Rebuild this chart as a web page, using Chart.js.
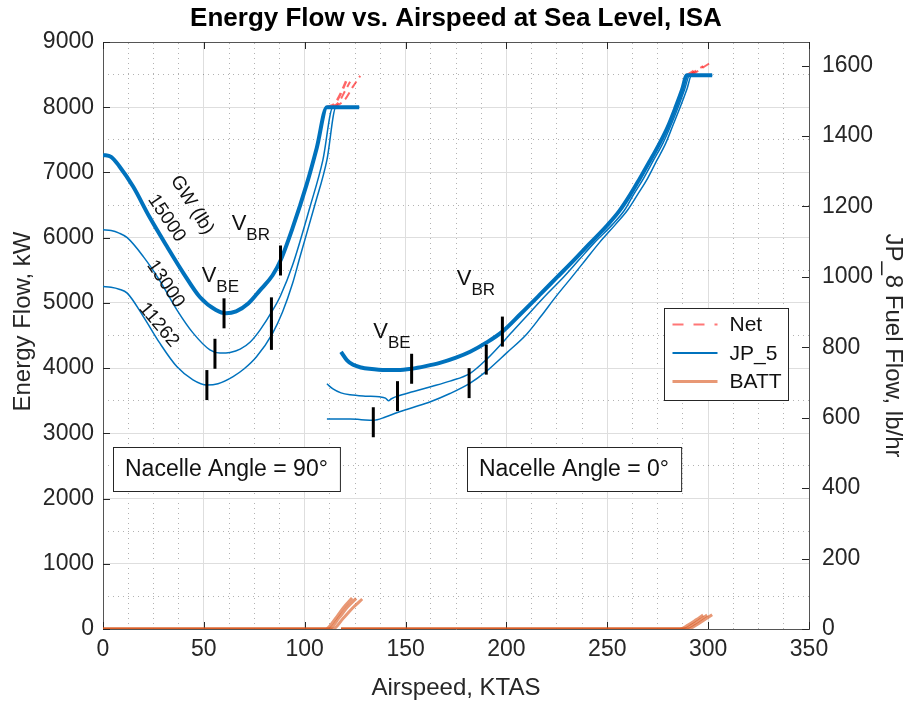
<!DOCTYPE html>
<html><head><meta charset="utf-8">
<script src="https://cdn.jsdelivr.net/npm/chart.js@4.4.1/dist/chart.umd.min.js"></script>
<style>html,body{margin:0;padding:0;background:#fff;}#wrap{width:907px;height:704px;}</style>
</head><body><div id="wrap"><canvas id="c" width="907" height="704"></canvas></div>
<script>
// ================= DATA =================
// Nacelle angle 90 deg: JP_5 energy flow (kW) vs airspeed (KTAS), one curve per gross weight
const n90_15000_kt = [0, 4, 8, 15, 23, 32, 40, 48, 56, 61, 66, 72, 78, 84, 88, 94, 101, 106, 111, 127];
const n90_15000_kw = [7270, 7240, 7100, 6780, 6320, 5850, 5450, 5090, 4890, 4840, 4870, 4990, 5200, 5420, 5650, 6150, 6820, 7380, 8000, 8000];
const n90_13000_kt = [0, 4, 8, 12, 20, 28, 36.7, 44.6, 53, 58, 63, 68, 73, 78, 84, 88, 94, 102.6, 109, 114, 127];
const n90_13000_kw = [6120, 6110, 6070, 6000, 5710, 5350, 4890, 4540, 4280, 4230, 4240, 4290, 4400, 4590, 4880, 5110, 5580, 6470, 7190, 8000, 8000];
const n90_11262_kt = [0, 4, 8, 12, 20, 28, 36.7, 44.6, 51.5, 57, 64.5, 70, 76, 84, 89, 94, 97.6, 105, 111, 115.5, 127];
const n90_11262_kw = [5250, 5240, 5210, 5150, 4790, 4390, 4020, 3820, 3740, 3760, 3870, 3990, 4170, 4530, 4860, 5300, 5700, 6500, 7190, 8000, 8000];

// Nacelle angle 0 deg
const n0_15000_kt = [118, 121, 124, 128, 132, 140, 146, 153, 160, 167, 175, 182, 190, 198, 207, 216.7, 225, 233, 241, 250, 256, 261, 266, 271, 276, 280, 284, 287, 289.5, 302];
const n0_15000_kw = [4250, 4120, 4050, 4010, 3990, 3970, 3970, 3990, 4030, 4080, 4160, 4250, 4390, 4560, 4830, 5130, 5390, 5640, 5900, 6190, 6410, 6640, 6900, 7170, 7450, 7700, 8010, 8260, 8490, 8490];
const n0_13000_kt = [111, 114, 118, 122.5, 130, 137, 140, 141.5, 143, 146, 154, 162, 172, 182, 190, 203, 211, 220.6, 228.5, 236, 243.5, 252.5, 258.5, 263, 268, 272.8, 277.6, 281.5, 285.5, 288.4, 290.8, 302];
const n0_13000_kw = [3760, 3680, 3620, 3590, 3570, 3560, 3540, 3500, 3530, 3570, 3640, 3710, 3800, 3920, 4130, 4560, 4830, 5150, 5400, 5660, 5920, 6200, 6420, 6660, 6910, 7180, 7450, 7720, 8030, 8280, 8490, 8490];
const n0_11262_kt = [111, 116, 122.5, 128, 134, 140, 146, 154, 162, 172, 182, 190, 200, 210, 217, 224.6, 232, 239, 246, 254, 260, 265, 270, 274.5, 279, 282.5, 286.5, 289.5, 291.8, 302];
const n0_11262_kw = [3220, 3220, 3220, 3210, 3200, 3250, 3320, 3400, 3480, 3610, 3770, 3950, 4230, 4520, 4790, 5100, 5380, 5650, 5920, 6200, 6420, 6660, 6910, 7180, 7450, 7720, 8030, 8280, 8490, 8490];

// Net energy flow where it exceeds the JP_5 limit
const net90_15000_kt = [111, 115, 118, 120.5];
const net90_15000_kw = [8000, 8060, 8220, 8400];
const net90_13000_kt = [113.5, 117, 120, 122.5];
const net90_13000_kw = [8000, 8080, 8250, 8390];
const net90_11262_kt = [115, 120, 124, 127.5];
const net90_11262_kw = [8000, 8120, 8320, 8480];
const net0_15000_kt = [289.5, 292, 294.5];
const net0_15000_kw = [8490, 8540, 8590];
const net0_13000_kt = [290.8, 294, 297.5];
const net0_13000_kw = [8490, 8560, 8630];
const net0_11262_kt = [291.8, 297, 302];
const net0_11262_kw = [8490, 8600, 8700];

// Battery energy flow
const batt90_15000_kt = [0, 110.5, 115, 119, 123.5];
const batt90_15000_kw = [0, 0, 150, 320, 475];
const batt90_13000_kt = [0, 112, 117, 121, 125.5];
const batt90_13000_kw = [0, 0, 170, 330, 470];
const batt90_11262_kt = [0, 114, 119, 124, 128.5];
const batt90_11262_kw = [0, 0, 160, 330, 460];
const batt0_15000_kt = [118, 286, 290, 294, 297.5];
const batt0_15000_kw = [0, 0, 60, 140, 215];
const batt0_13000_kt = [118, 288, 292, 296, 299.5];
const batt0_13000_kw = [0, 0, 60, 140, 215];
const batt0_11262_kt = [118, 290, 294, 298, 302];
const batt0_11262_kw = [0, 0, 60, 140, 220];

// Best-endurance / best-range speeds (KTAS) and energy flow there (kW)
const vbe90_kt = [60, 55.5, 51.5];
const vbe90_kw = [4840, 4220, 3740];
const vbr90_kt = [88, 83.5, 83.5];
const vbr90_kw = [5650, 4855, 4510];
const vbe0_kt = [153, 146, 134];
const vbe0_kw = [3990, 3570, 3170];
const vbr0_kt = [198, 190, 181.5];
const vbr0_kw = [4560, 4130, 3770];

// Axis ranges / tick steps
const xRange = [0, 350], xStep = 50, xMinorStep = 12.5;
const yRange = [0, 9000], yStep = 1000, yMinorStep = 500;
const y2Range = [0, 1667], y2Step = 200;

// ================= STYLE / BUILD =================
const FONT = "'Liberation Sans', Arial, Helvetica, sans-serif";
Chart.defaults.font.family = FONT;
const BLUE = '#0072BD', ORANGE = 'rgba(217,83,25,0.6)', RED = 'rgba(255,0,0,0.6)';
const MARK_HALF = 230; // half-length of V marks in kW

const xy = (xs, ys) => xs.map((x, i) => ({x, y: ys[i]}));
const datasets = [];
function addLine(xs, ys, color, width, order, dash) {
  datasets.push({data: xy(xs, ys), borderColor: color, borderWidth: width, pointRadius: 0,
    fill: false, order, borderDash: dash || [], cubicInterpolationMode: 'monotone', borderCapStyle: 'butt'});
}
[[vbe90_kt, vbe90_kw], [vbr90_kt, vbr90_kw], [vbe0_kt, vbe0_kw], [vbr0_kt, vbr0_kw]].forEach(([xs, ys]) => {
  xs.forEach((x, i) => {
    datasets.push({data: [{x, y: ys[i] - MARK_HALF}, {x, y: ys[i] + MARK_HALF}], borderColor: '#000',
      borderWidth: 3, pointRadius: 0, order: 0, borderCapStyle: 'butt'});
  });
});
addLine(n90_15000_kt, n90_15000_kw, BLUE, 4, 1);
addLine(n90_13000_kt, n90_13000_kw, BLUE, 1.5, 1);
addLine(n90_11262_kt, n90_11262_kw, BLUE, 1.5, 1);
addLine(n0_15000_kt, n0_15000_kw, BLUE, 4, 1);
addLine(n0_13000_kt, n0_13000_kw, BLUE, 1.5, 1);
addLine(n0_11262_kt, n0_11262_kw, BLUE, 1.5, 1);
addLine(net90_15000_kt, net90_15000_kw, RED, 2.5, 2, [8, 5]);
addLine(net90_13000_kt, net90_13000_kw, RED, 2, 2, [8, 5]);
addLine(net90_11262_kt, net90_11262_kw, RED, 2, 2, [8, 5]);
addLine(net0_15000_kt, net0_15000_kw, RED, 2.5, 2, [8, 5]);
addLine(net0_13000_kt, net0_13000_kw, RED, 2, 2, [8, 5]);
addLine(net0_11262_kt, net0_11262_kw, RED, 2, 2, [8, 5]);
addLine(batt90_15000_kt, batt90_15000_kw, ORANGE, 3, 3);
addLine(batt90_13000_kt, batt90_13000_kw, ORANGE, 3, 3);
addLine(batt90_11262_kt, batt90_11262_kw, ORANGE, 3, 3);
addLine(batt0_15000_kt, batt0_15000_kw, ORANGE, 3, 3);
addLine(batt0_13000_kt, batt0_13000_kw, ORANGE, 3, 3);
addLine(batt0_11262_kt, batt0_11262_kw, ORANGE, 3, 3);

// annotation config (data coordinates)
const curveLabels = [
  {text: 'GW (lb)', kt: 44.1, kw: 6500, deg: 58},
  {text: '15000', kt: 31.5, kw: 6300, deg: 56},
  {text: '13000', kt: 31.0, kw: 5290, deg: 56},
  {text: '11262', kt: 27.7, kw: 4660, deg: 50}
];
const vLabels = [
  {sub: 'BR', kt: 63.8, kw: 6118},
  {sub: 'BE', kt: 48.9, kw: 5327},
  {sub: 'BE', kt: 134.0, kw: 4457},
  {sub: 'BR', kt: 175.4, kw: 5274}
];
const boxLabels = [
  {text: 'Nacelle Angle = 90\u00B0', kt: 61.2, kw: 2453},
  {text: 'Nacelle Angle = 0\u00B0', kt: 233.5, kw: 2453}
];
const legendItems = [
  {label: 'Net', color: 'rgba(255,60,60,0.7)', dash: [11, 10], width: 2},
  {label: 'JP_5', color: BLUE, dash: [], width: 2},
  {label: 'BATT', color: 'rgba(217,83,25,0.6)', dash: [], width: 3}
];
const yTitle = 'Energy Flow, kW', y2Title = 'JP_8 Fuel Flow, lb/hr';

const overlay = {
  id: 'overlay',
  beforeDatasetsDraw(chart) {
    const {ctx, chartArea: a, scales} = chart;
    ctx.save();
    ctx.strokeStyle = '#262626'; ctx.lineWidth = 1;
    const L = 7;
    ctx.beginPath();
    for (let v = yRange[0]; v <= yRange[1]; v += yStep) {
      const p = Math.round(scales.y.getPixelForValue(v)) + 0.5;
      ctx.moveTo(a.left, p); ctx.lineTo(a.left + L, p);
    }
    for (let v = y2Range[0]; v <= 1600; v += y2Step) {
      const p = Math.round(scales.y2.getPixelForValue(v)) + 0.5;
      ctx.moveTo(a.right, p); ctx.lineTo(a.right - L, p);
    }
    for (let v = xRange[0]; v <= xRange[1]; v += xStep) {
      const p = Math.round(scales.x.getPixelForValue(v)) + 0.5;
      ctx.moveTo(p, a.bottom); ctx.lineTo(p, a.bottom - L);
      ctx.moveTo(p, a.top); ctx.lineTo(p, a.top + L);
    }
    ctx.stroke();
    ctx.restore();
  },
  afterDraw(chart) {
    const {ctx, chartArea: a, scales} = chart;
    const px = v => scales.x.getPixelForValue(v), py = v => scales.y.getPixelForValue(v);
    ctx.save();
    // axis titles
    ctx.fillStyle = '#262626'; ctx.font = '24px ' + FONT; ctx.textAlign = 'center'; ctx.textBaseline = 'middle';
    ctx.save(); ctx.translate(23, (a.top + a.bottom) / 2 - 14); ctx.rotate(-Math.PI / 2); ctx.fillText(yTitle, 0, 0); ctx.restore();
    ctx.save(); ctx.translate(893, (a.top + a.bottom) / 2 + 10); ctx.rotate(Math.PI / 2); ctx.fillText(y2Title, 0, 0); ctx.restore();

    ctx.fillStyle = '#111';
    curveLabels.forEach(l => {
      ctx.save();
      ctx.translate(px(l.kt), py(l.kw));
      ctx.rotate(l.deg * Math.PI / 180);
      ctx.font = '19px ' + FONT; ctx.textAlign = 'center'; ctx.textBaseline = 'middle';
      ctx.fillText(l.text, 0, 0);
      ctx.restore();
    });
    vLabels.forEach(l => {
      const x = px(l.kt), y = py(l.kw);
      ctx.font = '22px ' + FONT; ctx.textAlign = 'left'; ctx.textBaseline = 'alphabetic';
      ctx.fillText('V', x, y);
      const w = ctx.measureText('V').width;
      ctx.font = '17px ' + FONT;
      ctx.fillText(l.sub, x + w, y + 10);
    });
    boxLabels.forEach(l => {
      const x = px(l.kt), y = py(l.kw);
      ctx.font = '23px ' + FONT;
      const w = ctx.measureText(l.text).width + 24, h = 44;
      const bx = Math.round(x - w / 2) + 0.5, by = Math.round(y - h / 2) + 0.5;
      ctx.fillStyle = '#fff'; ctx.fillRect(bx, by, w, h);
      ctx.strokeStyle = '#262626'; ctx.lineWidth = 1; ctx.strokeRect(bx, by, w, h);
      ctx.fillStyle = '#111'; ctx.textAlign = 'center'; ctx.textBaseline = 'middle';
      ctx.fillText(l.text, x, y + 1);
    });
    // legend
    const lw = 124, lh = 92;
    const lx = Math.round(a.right - 21 - lw) + 0.5, ly = 308.5;
    ctx.fillStyle = '#fff'; ctx.fillRect(lx, ly, lw, lh);
    ctx.strokeStyle = '#262626'; ctx.lineWidth = 1; ctx.strokeRect(lx, ly, lw, lh);
    legendItems.forEach((it, i) => {
      const yy = ly + 16 + i * 28.5;
      ctx.save();
      ctx.strokeStyle = it.color; ctx.lineWidth = it.width; ctx.setLineDash(it.dash);
      ctx.beginPath(); ctx.moveTo(lx + 8, yy); ctx.lineTo(lx + 53, yy); ctx.stroke();
      ctx.restore();
      ctx.fillStyle = '#111'; ctx.font = '21px ' + FONT; ctx.textAlign = 'left'; ctx.textBaseline = 'middle';
      ctx.fillText(it.label, lx + 65, yy + 1);
    });
    ctx.restore();
  }
};

const tickFont = {size: 23, family: FONT};
const titleFont = {size: 24, family: FONT};
const GRID = '#dedede', MINOR = 'rgba(0,0,0,0.3)', AXIS = '#555';
const plain = v => String(v);

new Chart(document.getElementById('c'), {
  type: 'line',
  data: {datasets},
  options: {
    responsive: false, animation: false, devicePixelRatio: 1,
    layout: {padding: 0},
    plugins: {legend: {display: false}, tooltip: {enabled: false}, title: {display: false}},
    scales: {
      x: {type: 'linear', position: 'bottom', min: xRange[0], max: xRange[1],
        ticks: {stepSize: xStep, font: tickFont, color: '#262626', padding: 7, maxRotation: 0, callback: plain},
        grid: {color: GRID, drawTicks: false},
        border: {color: AXIS},
        title: {display: true, text: 'Airspeed, KTAS', font: titleFont, color: '#262626', padding: {top: 0, bottom: 1}},
        afterFit: s => { s.height = 75; }},
      xTop: {type: 'linear', position: 'top', min: xRange[0], max: xRange[1],
        ticks: {display: false, stepSize: xMinorStep},
        grid: {drawTicks: false, color: c => (c.tick && c.tick.value % xStep === 0) ? 'rgba(0,0,0,0)' : MINOR},
        border: {display: true, color: AXIS, dash: [1, 4]},
        title: {display: true, text: 'Energy Flow vs. Airspeed at Sea Level, ISA', color: '#000',
          font: {size: 26, weight: 'bold', family: FONT}, padding: {top: 3, bottom: 0}},
        afterFit: s => { s.height = 42; }},
      y: {position: 'left', min: yRange[0], max: yRange[1],
        ticks: {stepSize: yStep, font: tickFont, color: '#262626', padding: 9, callback: plain},
        grid: {color: GRID, drawTicks: false},
        border: {color: AXIS},
        afterFit: s => { s.width = 103; }},
      yMinor: {position: 'left', min: yRange[0], max: yRange[1],
        ticks: {display: false, stepSize: yMinorStep},
        grid: {drawTicks: false, color: c => (c.tick && c.tick.value % yStep === 0) ? 'rgba(0,0,0,0)' : MINOR},
        border: {display: false, dash: [1, 4]},
        afterFit: s => { s.width = 0; }},
      y2: {position: 'right', min: y2Range[0], max: y2Range[1],
        ticks: {stepSize: y2Step, font: tickFont, color: '#262626', padding: 13, includeBounds: false, callback: plain},
        grid: {display: false, drawTicks: false},
        border: {color: AXIS},
        afterFit: s => { s.width = 98; }}
    }
  },
  plugins: [overlay]
});
</script></body></html>
